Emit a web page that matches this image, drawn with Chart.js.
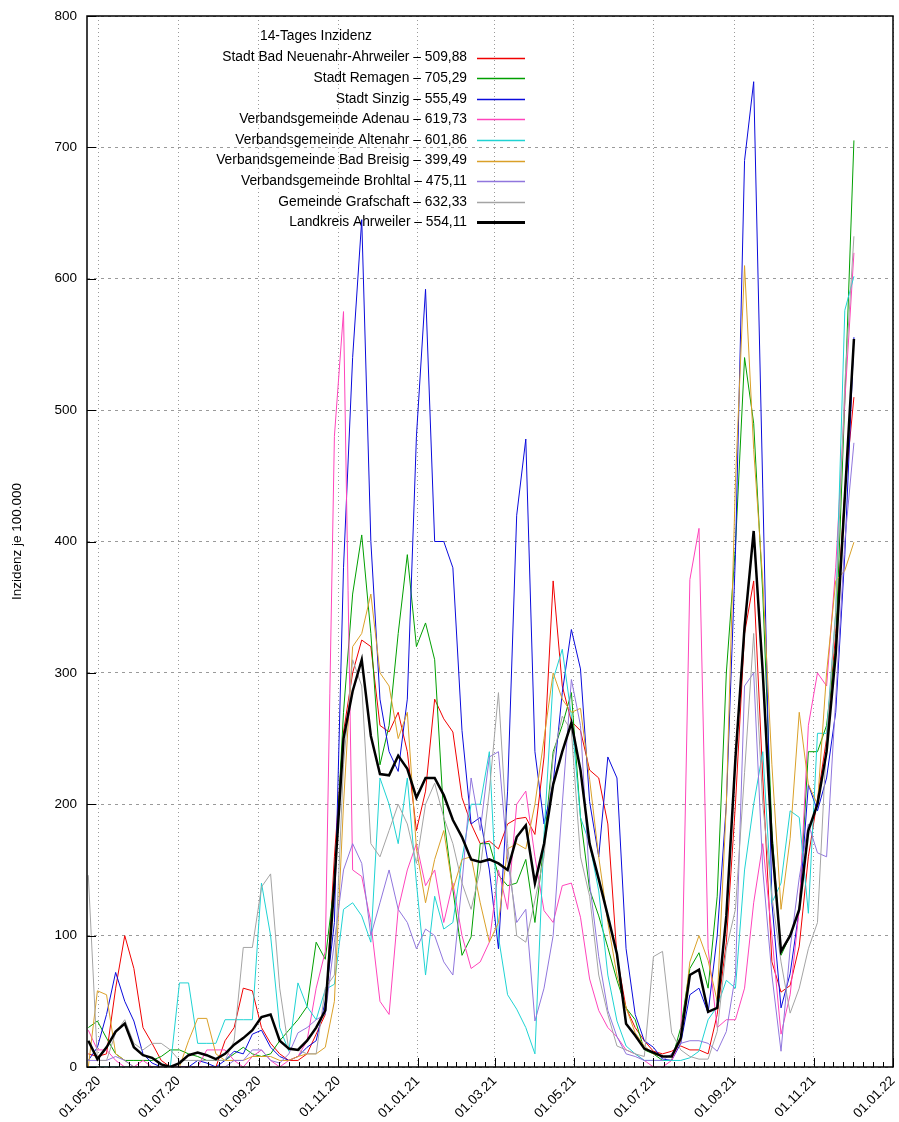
<!DOCTYPE html>
<html>
<head>
<meta charset="utf-8">
<script src="https://cdn.jsdelivr.net/npm/chart.js@4.4.0/dist/chart.umd.min.js"></script>
<style>
  html, body { margin: 0; background: #fff; }
  canvas { display: block; }
</style>
</head>
<body>
<canvas id="chart" width="899" height="1122"></canvas>
<script>
// weekly readings, first one on 23.04.2020, then every 7 days
const firstDay = '2020-04-23', stepDays = 7;

const names = [
    'Stadt Bad Neuenahr-Ahrweiler', 'Stadt Remagen', 'Stadt Sinzig',
    'Verbandsgemeinde Adenau', 'Verbandsgemeinde Altenahr', 'Verbandsgemeinde Bad Breisig',
    'Verbandsgemeinde Brohltal', 'Gemeinde Grafschaft', 'Landkreis Ahrweiler'
];
const colors = ['#f00000', '#009f00', '#0a0adc', '#ff44bb', '#1fd3d3', '#daa028', '#9076dd', '#a4a4a4', '#000000'];

const neuenahr = [10, 8, 10, 60, 100, 75, 30, 18, 5, 0, 0, 0, 0, 0, 0, 20, 30, 60, 58, 30,
    18, 10, 5, 5, 10, 25, 40, 160, 255, 300, 325, 320, 260, 255, 270, 240, 180, 210, 280, 265,
    255, 205, 185, 170, 172, 166, 185, 189, 190, 177, 236, 370, 290, 263, 256, 226, 220, 185, 84, 45,
    30, 20, 12, 10, 12, 16, 13, 13, 10, 40, 95, 200, 330, 370, 220, 80, 57, 62, 92, 160,
    204, 250, 330, 438, 509.88];
const remagen = [30, 35, 22, 10, 5, 5, 5, 5, 8, 13, 13, 10, 8, 5, 5, 5, 10, 15, 10, 8,
    10, 20, 28, 36, 46, 95, 82, 140, 270, 360, 405, 330, 230, 260, 330, 390, 320, 338, 310, 190,
    135, 85, 99, 170, 170, 146, 138, 140, 158, 110, 170, 240, 260, 285, 190, 135, 115, 91, 66, 45,
    36, 13, 10, 5, 5, 30, 75, 87, 60, 130, 300, 396, 540, 490, 360, 180, 85, 100, 120, 240,
    240, 260, 320, 507, 705.29];
const sinzig = [5, 15, 40, 72, 50, 35, 10, 3, 0, 0, 0, 0, 5, 3, 0, 5, 12, 10, 25, 28,
    15, 8, 5, 8, 15, 20, 50, 110, 380, 540, 645, 400, 280, 240, 225, 280, 480, 592, 400, 400,
    380, 256, 185, 190, 150, 90, 210, 420, 478, 240, 185, 216, 285, 333, 303, 202, 160, 236, 220, 90,
    40, 20, 15, 6, 5, 18, 55, 60, 41, 100, 200, 390, 690, 750, 440, 125, 45, 71, 120, 215,
    195, 220, 270, 390, 555.49];
const adenau = [28, 13, 13, 5, 0, 0, 5, 0, 0, 0, 0, 0, 0, 13, 13, 13, 5, 0, 8, 13,
    5, 0, 5, 8, 20, 60, 88, 480, 575, 150, 145, 110, 50, 40, 120, 150, 170, 138, 150, 110,
    140, 100, 75, 80, 95, 150, 120, 200, 210, 160, 119, 110, 138, 140, 114, 67, 43, 30, 23, 13,
    10, 5, 0, 0, 5, 20, 371, 410, 90, 30, 36, 36, 60, 125, 170, 100, 25, 55, 120, 260,
    300, 290, 380, 507, 619.73];
const altenahr = [0, 0, 0, 0, 0, 0, 0, 0, 0, 0, 64, 64, 18, 18, 18, 36, 36, 36, 36, 140,
    100, 30, 12, 64, 46, 36, 59, 63, 120, 125, 115, 95, 220, 200, 170, 220, 140, 70, 130, 105,
    110, 158, 200, 200, 240, 99, 55, 44, 30, 10, 177, 295, 318, 267, 190, 170, 134, 70, 35, 16,
    10, 5, 5, 5, 5, 5, 7, 12, 36, 46, 66, 60, 150, 200, 240, 125, 140, 195, 190, 117,
    254, 254, 346, 576, 601.86];
const breisig = [0, 58, 55, 10, 5, 0, 0, 0, 0, 0, 0, 20, 37, 37, 10, 5, 5, 5, 8, 8,
    8, 5, 5, 8, 10, 10, 15, 50, 200, 320, 330, 360, 300, 290, 250, 270, 166, 125, 158, 180,
    135, 158, 160, 125, 95, 110, 166, 170, 166, 200, 250, 300, 280, 270, 273, 219, 160, 110, 70, 45,
    26, 16, 10, 8, 8, 20, 80, 100, 81, 50, 200, 445, 610, 470, 370, 230, 120, 174, 270, 215,
    200, 300, 370, 378, 399.49];
const brohltal = [5, 5, 5, 8, 5, 0, 0, 0, 0, 0, 0, 0, 0, 0, 0, 0, 5, 5, 13, 13,
    5, 3, 10, 26, 30, 36, 40, 95, 150, 170, 155, 100, 125, 150, 120, 110, 90, 105, 100, 80,
    70, 140, 220, 180, 236, 240, 158, 110, 120, 35, 60, 100, 200, 295, 260, 140, 84, 43, 23, 10,
    8, 5, 5, 5, 10, 18, 20, 20, 18, 12, 27, 70, 290, 300, 150, 70, 12, 90, 144, 185,
    163, 160, 280, 400, 475.11];
const grafschaft = [146, 5, 5, 26, 36, 18, 13, 18, 18, 13, 5, 5, 5, 5, 5, 5, 20, 91, 91, 137,
    147, 60, 13, 13, 10, 10, 60, 70, 230, 310, 290, 170, 160, 180, 200, 185, 155, 200, 216, 190,
    170, 140, 120, 150, 210, 285, 170, 100, 95, 127, 160, 236, 267, 256, 160, 130, 70, 40, 16, 13,
    10, 8, 84, 88, 26, 13, 8, 6, 6, 27, 90, 120, 224, 330, 200, 130, 80, 41, 60, 90,
    110, 250, 346, 520, 632.33];
const kreis = [20, 6, 15, 27, 33, 15, 9, 7, 2, 0, 3, 9, 11, 9, 6, 10, 17, 22, 28, 38,
    40, 20, 14, 13, 20, 30, 43, 140, 250, 286, 310, 252, 223, 222, 237, 227, 205, 220, 220, 207,
    188, 175, 158, 156, 158, 155, 150, 175, 184, 140, 170, 215, 240, 262, 226, 170, 143, 115, 86, 33,
    24, 14, 11, 8, 8, 22, 70, 74, 42, 45, 115, 235, 335, 408, 300, 170, 88, 100, 120, 180,
    200, 240, 314, 434, 554.11];

const series = [neuenahr, remagen, sinzig, adenau, altenahr, breisig, brohltal, grafschaft, kreis];

const tickDates = ['2020-05-01', '2020-07-01', '2020-09-01', '2020-11-01', '2021-01-01',
    '2021-03-01', '2021-05-01', '2021-07-01', '2021-09-01', '2021-11-01', '2022-01-01'];
const xFrom = '2020-04-22', xTo = '2022-01-01';
const yTicks = [0, 100, 200, 300, 400, 500, 600, 700, 800];
const keyTitle = '14-Tages Inzidenz';
const yTitle = 'Inzidenz je 100.000';

const FONT = '"Liberation Sans", Arial, sans-serif';

function day(s) {
    return Date.UTC(+s.slice(0, 4), +s.slice(5, 7) - 1, +s.slice(8, 10)) / 864e5;
}
function fmtDay(v) {
    const d = new Date(v * 864e5);
    const p = n => String(n).padStart(2, '0');
    return p(d.getUTCDate()) + '.' + p(d.getUTCMonth() + 1) + '.' + p(d.getUTCFullYear() % 100);
}
const comma = v => v.toFixed(2).replace('.', ',');

const datasets = series.map((vals, i) => {
    const last = i === series.length - 1;
    return {
        label: names[i] + ' \u2013 ' + comma(vals[vals.length - 1]),
        data: vals.map((v, k) => ({ x: day(firstDay) + k * stepDays, y: v })),
        borderColor: colors[i],
        borderWidth: last ? 2.5 : 1,
        pointRadius: 0,
        tension: 0,
        fill: false,
        order: series.length - 1 - i
    };
});

// gnuplot style key: right aligned text, sample line on the right
const keyPlugin = {
    id: 'key',
    beforeDatasetsDraw(chart) {
        const ctx = chart.ctx;
        ctx.save();
        ctx.font = '13.8px ' + FONT;
        ctx.fillStyle = '#000';
        ctx.textBaseline = 'middle';
        ctx.textAlign = 'left';
        ctx.fillText(keyTitle, 260, 36);
        ctx.textAlign = 'right';
        chart.data.datasets.forEach((ds, i) => {
            const y = 57.5 + i * 20.6;
            ctx.fillText(ds.label, 467, y);
            ctx.strokeStyle = ds.borderColor;
            ctx.lineWidth = ds.borderWidth === 1 ? 1.3 : 3;
            ctx.beginPath();
            ctx.moveTo(477, Math.round(y) + 0.5);
            ctx.lineTo(525, Math.round(y) + 0.5);
            ctx.stroke();
        });
        ctx.restore();
    }
};

// frame round the plot and inward ticks
const framePlugin = {
    id: 'frame',
    afterDatasetsDraw(chart) {
        const { ctx, chartArea: a, scales: { x, y } } = chart;
        ctx.save();
        ctx.strokeStyle = '#000';
        ctx.lineWidth = 1.5;
        ctx.strokeRect(a.left, a.top, a.right - a.left, a.bottom - a.top);
        ctx.lineWidth = 1;
        ctx.beginPath();
        yTicks.forEach(v => {
            const py = Math.round(y.getPixelForValue(v)) + 0.5;
            ctx.moveTo(a.left, py); ctx.lineTo(a.left + 9, py);
        });
        const t = tickDates.map(day);
        t.forEach((v, i) => {
            const px = Math.round(x.getPixelForValue(v)) + 0.5;
            ctx.moveTo(px, a.bottom); ctx.lineTo(px, a.bottom - 9);
            if (i < t.length - 1) {
                for (let m = 1; m < 8; m++) {
                    const mx = Math.round(x.getPixelForValue(v + (t[i + 1] - v) * m / 8)) + 0.5;
                    ctx.moveTo(mx, a.bottom); ctx.lineTo(mx, a.bottom - 5);
                }
            }
        });
        ctx.stroke();
        ctx.restore();
    }
};

new Chart(document.getElementById('chart'), {
    type: 'line',
    data: { datasets },
    plugins: [keyPlugin, framePlugin],
    options: {
        responsive: false,
        animation: false,
        devicePixelRatio: 1,
        layout: { padding: { top: 16, right: 6, left: 0, bottom: 0 } },
        plugins: { legend: { display: false }, tooltip: { enabled: false } },
        scales: {
            x: {
                type: 'linear',
                min: day(xFrom),
                max: day(xTo),
                afterBuildTicks: s => { s.ticks = tickDates.map(d => ({ value: day(d) })); },
                afterFit: s => { s.height = 55; s.paddingLeft = 0; s.paddingRight = 0; },
                ticks: {
                    autoSkip: false, minRotation: 45, maxRotation: 45, padding: 6,
                    color: '#000', font: { family: FONT, size: 13.5 },
                    callback: v => fmtDay(v)
                },
                grid: { color: '#9a9a9a', lineWidth: 1, drawTicks: false },
                border: { display: false, dash: [1, 3] }
            },
            y: {
                min: 0,
                max: 800,
                afterBuildTicks: s => { s.ticks = yTicks.map(v => ({ value: v })); },
                afterFit: s => { s.width = 87; s.paddingTop = 0; s.paddingBottom = 0; },
                ticks: { padding: 10, color: '#000', font: { family: FONT, size: 13.5 } },
                grid: { color: '#9a9a9a', lineWidth: 1, drawTicks: false },
                border: { display: false, dash: [3, 4] },
                title: {
                    display: true, text: yTitle, color: '#000',
                    font: { family: FONT, size: 13.5 }, padding: { top: 9, bottom: 0 }
                }
            }
        }
    }
});
</script>
</body>
</html>
